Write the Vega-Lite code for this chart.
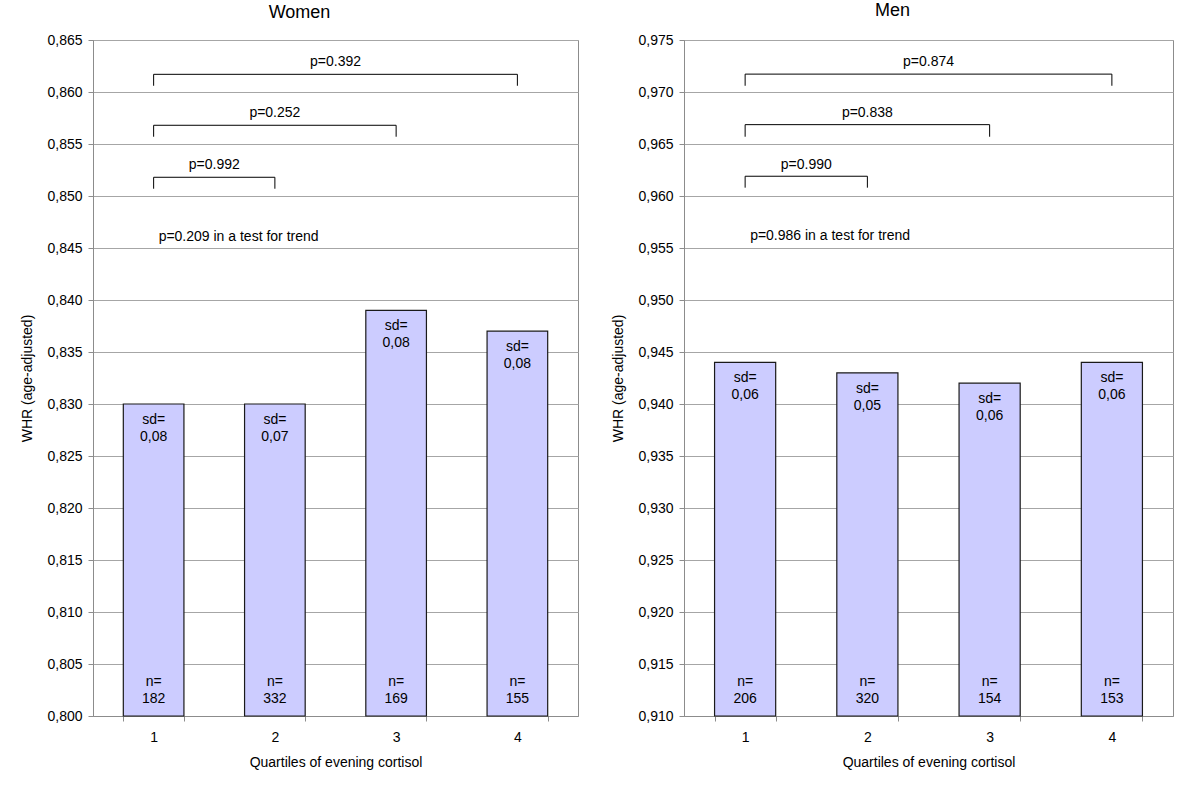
{
  "$schema": "https://vega.github.io/schema/vega-lite/v6.json",
  "background": "white",
  "padding": {"left": 20, "top": 1, "right": 5, "bottom": 5},
  "config": {
    "font": "Liberation Sans",
    "locale": {"number": {"decimal": ",", "thousands": ".", "grouping": [3], "currency": ["", ""]}},
    "view": {"stroke": "#8c8c8c", "strokeWidth": 1},
    "scale": {"bandPaddingInner": 0.5, "bandPaddingOuter": 0.25},
    "axis": {"labelFont": "Liberation Sans", "titleFont": "Liberation Sans", "labelFontSize": 14, "titleFontSize": 14, "labelColor": "#000", "titleColor": "#000", "titleFontWeight": "normal", "domainColor": "#8c8c8c", "tickColor": "#8c8c8c", "gridColor": "#a6a6a6"},
    "title": {"font": "Liberation Sans", "fontSize": 18, "fontWeight": "normal", "color": "#000"},
    "text": {"font": "Liberation Sans", "fontSize": 14, "color": "#000"}
  },
  "spacing": 32,
  "hconcat": [
    {
      "title": {"text": "Women", "frame": "bounds", "anchor": "middle", "offset": 11},
      "width": 485,
      "height": 676,
      "resolve": {"scale": {"x": "independent"}},
      "layer": [
        {
          "data": {"values": [
            {"q": "1", "whr": 0.830, "sd": "sd=\n0,08", "n": "n=\n182"},
            {"q": "2", "whr": 0.830, "sd": "sd=\n0,07", "n": "n=\n332"},
            {"q": "3", "whr": 0.839, "sd": "sd=\n0,08", "n": "n=\n169"},
            {"q": "4", "whr": 0.837, "sd": "sd=\n0,08", "n": "n=\n155"}
          ]},
          "encoding": {
            "x": {"field": "q", "type": "nominal", "sort": null, "title": "Quartiles of evening cortisol",
              "axis": {"labelAngle": 0, "tickBand": "extent", "tickSize": 5, "labelPadding": 9, "titlePadding": 11, "grid": false}},
            "y": {"field": "whr", "type": "quantitative", "title": "WHR (age-adjusted)",
              "scale": {"domain": [0.8, 0.865], "nice": false, "zero": false},
              "axis": {"values": [0.8, 0.805, 0.81, 0.815, 0.82, 0.825, 0.83, 0.835, 0.84, 0.845, 0.85, 0.855, 0.86, 0.865], "format": ".3f", "tickSize": 5, "labelPadding": 6, "titlePadding": 12, "grid": true}}
          },
          "layer": [
            {"mark": {"type": "bar", "fill": "#ccccff", "stroke": "#1a1a1a", "strokeWidth": 1.2}, "encoding": {"y2": {"datum": 0.8}}},
            {"mark": {"type": "text", "baseline": "middle", "dy": 16, "lineBreak": "\n", "lineHeight": 17}, "encoding": {"text": {"field": "sd"}}},
            {"mark": {"type": "text", "baseline": "middle", "dy": -34, "lineBreak": "\n", "lineHeight": 17}, "encoding": {"y": {"datum": 0.8}, "text": {"field": "n"}}}
          ]
        },
        {
          "data": {"values": [
            {"from": 1, "to": 4, "top": 0.8617, "end": 0.8606, "mid": 2.5, "labely": 0.8629, "label": "p=0.392"},
            {"from": 1, "to": 3, "top": 0.8568, "end": 0.8557, "mid": 2.0, "labely": 0.8580, "label": "p=0.252"},
            {"from": 1, "to": 2, "top": 0.8518, "end": 0.8507, "mid": 1.5, "labely": 0.8530, "label": "p=0.992"}
          ]},
          "layer": [
            {"mark": {"type": "rule", "color": "#000", "strokeWidth": 1},
             "encoding": {"x": {"field": "from", "type": "quantitative", "scale": {"domain": [0.5, 4.5], "nice": false, "zero": false}, "axis": null}, "x2": {"field": "to"}, "y": {"field": "top", "type": "quantitative"}}},
            {"mark": {"type": "rule", "color": "#000", "strokeWidth": 1},
             "encoding": {"x": {"field": "from", "type": "quantitative", "scale": {"domain": [0.5, 4.5], "nice": false, "zero": false}, "axis": null}, "y": {"field": "top", "type": "quantitative"}, "y2": {"field": "end"}}},
            {"mark": {"type": "rule", "color": "#000", "strokeWidth": 1},
             "encoding": {"x": {"field": "to", "type": "quantitative", "scale": {"domain": [0.5, 4.5], "nice": false, "zero": false}, "axis": null}, "y": {"field": "top", "type": "quantitative"}, "y2": {"field": "end"}}},
            {"mark": {"type": "text", "baseline": "middle", "align": "center"},
             "encoding": {"x": {"field": "mid", "type": "quantitative", "scale": {"domain": [0.5, 4.5], "nice": false, "zero": false}, "axis": null}, "y": {"field": "labely", "type": "quantitative"}, "text": {"field": "label"}}}
          ]
        },
        {
          "data": {"values": [{"xpos": 1, "ypos": 0.8461, "label": "p=0.209 in a test for trend"}]},
          "mark": {"type": "text", "align": "left", "baseline": "middle", "dx": 5},
          "encoding": {"x": {"field": "xpos", "type": "quantitative", "scale": {"domain": [0.5, 4.5], "nice": false, "zero": false}, "axis": null}, "y": {"field": "ypos", "type": "quantitative"}, "text": {"field": "label"}}
        }
      ]
    },
    {
      "title": {"text": "Men", "frame": "bounds", "anchor": "middle", "offset": 13},
      "width": 489,
      "height": 676,
      "resolve": {"scale": {"x": "independent"}},
      "layer": [
        {
          "data": {"values": [
            {"q": "1", "whr": 0.944, "sd": "sd=\n0,06", "n": "n=\n206"},
            {"q": "2", "whr": 0.943, "sd": "sd=\n0,05", "n": "n=\n320"},
            {"q": "3", "whr": 0.942, "sd": "sd=\n0,06", "n": "n=\n154"},
            {"q": "4", "whr": 0.944, "sd": "sd=\n0,06", "n": "n=\n153"}
          ]},
          "encoding": {
            "x": {"field": "q", "type": "nominal", "sort": null, "title": "Quartiles of evening cortisol",
              "axis": {"labelAngle": 0, "tickBand": "extent", "tickSize": 5, "labelPadding": 9, "titlePadding": 11, "grid": false}},
            "y": {"field": "whr", "type": "quantitative", "title": "WHR (age-adjusted)",
              "scale": {"domain": [0.91, 0.975], "nice": false, "zero": false},
              "axis": {"values": [0.91, 0.915, 0.92, 0.925, 0.93, 0.935, 0.94, 0.945, 0.95, 0.955, 0.96, 0.965, 0.97, 0.975], "format": ".3f", "tickSize": 5, "labelPadding": 6, "titlePadding": 12, "grid": true}}
          },
          "layer": [
            {"mark": {"type": "bar", "fill": "#ccccff", "stroke": "#1a1a1a", "strokeWidth": 1.2}, "encoding": {"y2": {"datum": 0.91}}},
            {"mark": {"type": "text", "baseline": "middle", "dy": 16, "lineBreak": "\n", "lineHeight": 17}, "encoding": {"text": {"field": "sd"}}},
            {"mark": {"type": "text", "baseline": "middle", "dy": -34, "lineBreak": "\n", "lineHeight": 17}, "encoding": {"y": {"datum": 0.91}, "text": {"field": "n"}}}
          ]
        },
        {
          "data": {"values": [
            {"from": 1, "to": 4, "top": 0.97172, "end": 0.9706, "mid": 2.5, "labely": 0.9729, "label": "p=0.874"},
            {"from": 1, "to": 3, "top": 0.96686, "end": 0.9657, "mid": 2.0, "labely": 0.9680, "label": "p=0.838"},
            {"from": 1, "to": 2, "top": 0.9619, "end": 0.9608, "mid": 1.5, "labely": 0.9630, "label": "p=0.990"}
          ]},
          "layer": [
            {"mark": {"type": "rule", "color": "#000", "strokeWidth": 1},
             "encoding": {"x": {"field": "from", "type": "quantitative", "scale": {"domain": [0.5, 4.5], "nice": false, "zero": false}, "axis": null}, "x2": {"field": "to"}, "y": {"field": "top", "type": "quantitative"}}},
            {"mark": {"type": "rule", "color": "#000", "strokeWidth": 1},
             "encoding": {"x": {"field": "from", "type": "quantitative", "scale": {"domain": [0.5, 4.5], "nice": false, "zero": false}, "axis": null}, "y": {"field": "top", "type": "quantitative"}, "y2": {"field": "end"}}},
            {"mark": {"type": "rule", "color": "#000", "strokeWidth": 1},
             "encoding": {"x": {"field": "to", "type": "quantitative", "scale": {"domain": [0.5, 4.5], "nice": false, "zero": false}, "axis": null}, "y": {"field": "top", "type": "quantitative"}, "y2": {"field": "end"}}},
            {"mark": {"type": "text", "baseline": "middle", "align": "center"},
             "encoding": {"x": {"field": "mid", "type": "quantitative", "scale": {"domain": [0.5, 4.5], "nice": false, "zero": false}, "axis": null}, "y": {"field": "labely", "type": "quantitative"}, "text": {"field": "label"}}}
          ]
        },
        {
          "data": {"values": [{"xpos": 1, "ypos": 0.95614, "label": "p=0.986 in a test for trend"}]},
          "mark": {"type": "text", "align": "left", "baseline": "middle", "dx": 5},
          "encoding": {"x": {"field": "xpos", "type": "quantitative", "scale": {"domain": [0.5, 4.5], "nice": false, "zero": false}, "axis": null}, "y": {"field": "ypos", "type": "quantitative"}, "text": {"field": "label"}}
        }
      ]
    }
  ]
}
